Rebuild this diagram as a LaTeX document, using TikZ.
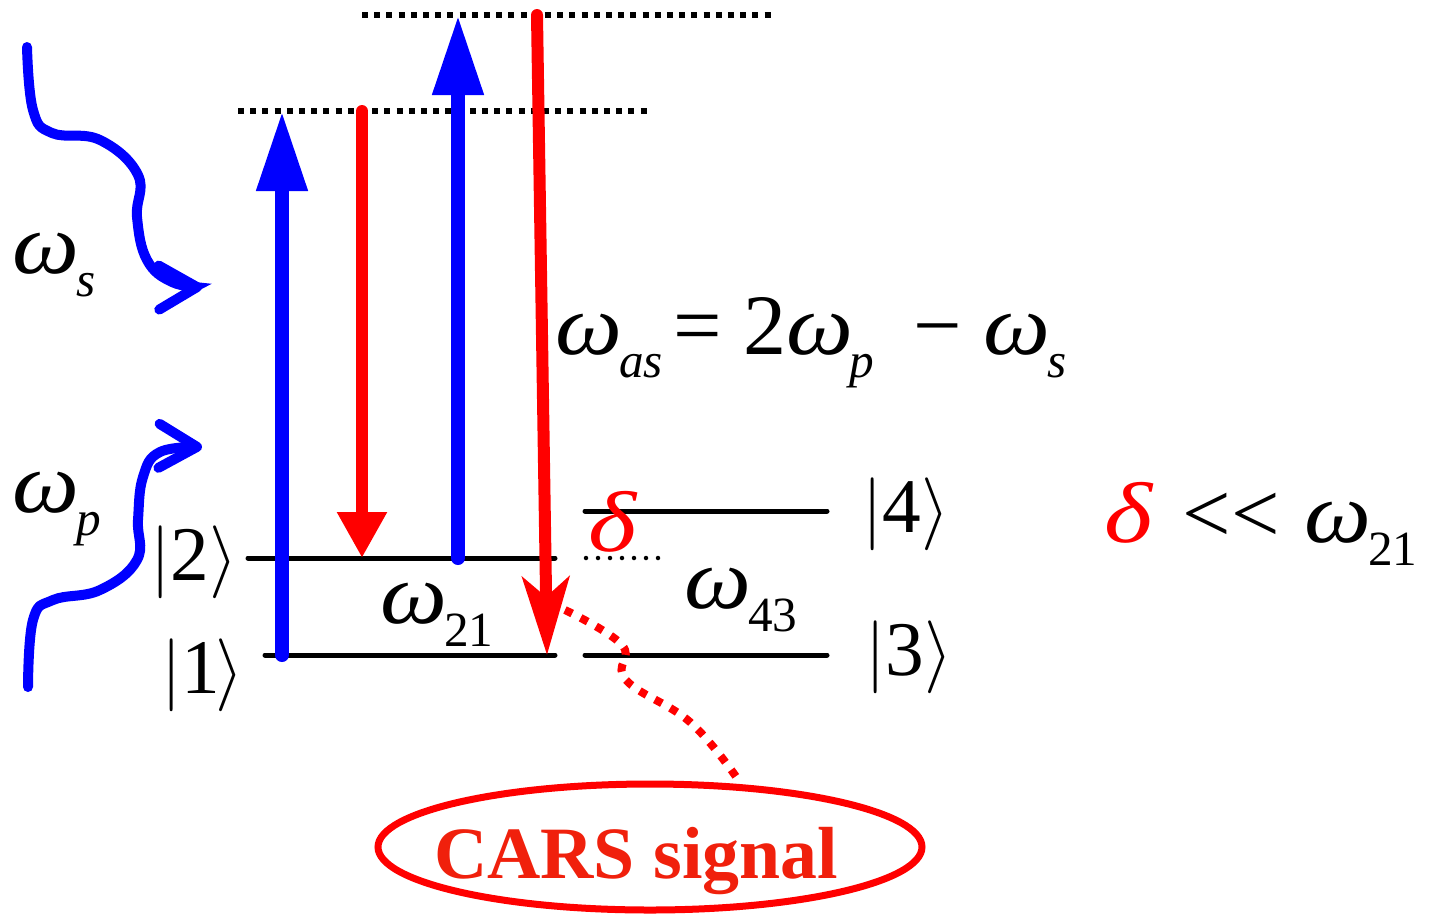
\documentclass[tikz,border=0pt]{standalone}
\usepackage{fontspec}
\usepackage{graphicx}
\setmainfont{Liberation Serif}
\usetikzlibrary{arrows.meta,shapes.geometric}
\definecolor{beamblue}{RGB}{0,0,255}
\definecolor{carsred}{RGB}{255,0,0}
\definecolor{carstext}{RGB}{240,32,12}
% wide omega and delta, omega with a lowered subscript
\newcommand{\wom}{\scalebox{1.1}[1]{\textit{ω}}}
\newcommand{\dlt}{\scalebox{1.2}[1]{\textit{δ}}}
\newcommand{\om}[1]{\wom\kern-1pt\raisebox{-6.8pt}{\fontsize{14}{14}\selectfont #1}}

\begin{document}
\begin{tikzpicture}[x=0.1mm,y=-0.1mm,>=Stealth,
  level/.style={line width=0.5mm,line cap=round},
  virt/.style={line width=0.6mm,dash pattern=on 0.6mm off 0.62mm},
  pump/.style={beamblue,line width=1.4mm,line cap=round,-{Triangle[length=8mm,width=4.8mm]}},
  stokes/.style={carsred,line width=1.2mm,line cap=round,-{Triangle[length=4.6mm,width=4.7mm]}},
  antistokes/.style={carsred,line width=1.2mm,line cap=round,-{Stealth[length=7.8mm,width=4.7mm,inset=2mm]}},
  wave/.style={beamblue,line width=1mm,line cap=round,-{Straight Barb[round,length=3.8mm,width=4.4mm]}},
  lbl/.style={font=\rmfamily\fontsize{24.5}{28}\selectfont,inner sep=0pt,anchor=base west},
  ket/.style={font=\rmfamily\fontsize{22}{26}\selectfont,inner sep=0pt,anchor=base west}]
\useasboundingbox (0,0) rectangle (1435,913);
% ---- virtual levels ----
\draw[virt] (238,111) -- (652,111);
\draw[virt] (362,15) -- (775,15);
% ---- levels 1,2 (left) and 3,4 (right) ----
\draw[level] (248,558) -- (555,558);
\draw[level] (265,655) -- (555,655);
\draw[level] (585,511) -- (827,511);
\draw[level] (585,655) -- (827,655);
\draw[line width=0.45mm,line cap=round,dash pattern=on 0mm off 1.2mm] (586,558) -- (660,558);
% ---- end points of the transitions ----
\coordinate (g1) at (282,655);
\coordinate (v1) at (282,111);
\coordinate (s1) at (362,111);
\coordinate (e2) at (362,558);
\coordinate (g2) at (458,558);
\coordinate (v2) at (458,15);
\coordinate (a1) at (537,15);
\coordinate (a2) at (547,655);
\draw[pump] (g1) -- (v1);
\draw[stokes] (s1) -- (e2);
\draw[pump] (g2) -- (v2);
\draw[antistokes] (a1) -- (a2);
% ---- incoming beams ----
\draw[wave] plot[smooth,tension=0.7] coordinates
  {(27,47) (33,110) (52,133) (100,140) (138,175) (137,217) (147,260) (172,282) (202,287)};
\draw[wave] plot[smooth,tension=0.7] coordinates
  {(28,687) (33,620) (53,600) (100,590) (137,560) (138,520) (143,477) (160,452) (202,447)};
\node[lbl] (ws) at (12,273) {\om{\textit{s}}};
\node[lbl] (wp) at (12,512) {\om{\textit{p}}};
% ---- level labels ----
\node[ket] (k2) at (150,580) {$|\mbox{2}\rangle$};
\node[ket] (k1) at (161,693) {$|\mbox{1}\kern-1.4pt\rangle$};
\node[ket] (k4) at (862,532) {$|\mbox{4}\rangle$};
\node[ket] (k3) at (865,675) {$|\mbox{3}\rangle$};
\node[lbl] (w21) at (380,623) {\om{21}};
\node[lbl] (w43) at (684,608) {\om{43}};
\node[lbl,text=carsred] (dl) at (588,551) {\dlt};
\node[lbl] (eq) at (555,354) {\om{\textit{as}}\kern3pt= 2\om{\textit{p}}\kern5pt{} − \om{\textit{s}}};
\node[lbl] (cond) at (1104,542) {{\color{carsred}\dlt}\kern2pt{} <{}< \kern1pt\om{21}};
% ---- signal ----
\node[ellipse,draw=carsred,line width=0.7mm,minimum width=54.4mm,minimum height=12.6mm] (sig) at (650,847) {};
\node[font=\rmfamily\fontsize{21}{24}\selectfont\bfseries,text=carstext,anchor=base,inner sep=0pt] (sigl) at (636,878) {CARS signal};
\coordinate (c0) at (565,610);
\coordinate (c4) at (737,778);
\draw[carsred,line width=0.8mm,dash pattern=on 0.8mm off 0.95mm] plot[smooth,tension=0.7] coordinates
  {(c0) (622,645) (626,680) (690,722) (c4)};
\end{tikzpicture}
\end{document}
